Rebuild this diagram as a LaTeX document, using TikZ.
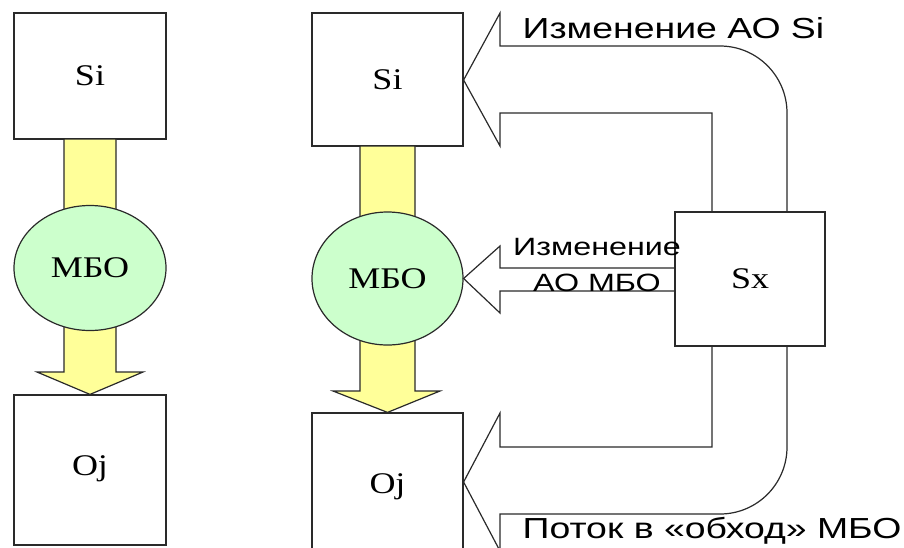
\documentclass[tikz,border=0pt]{standalone}
\usepackage{fontspec}
\setmainfont{Liberation Serif}[FakeStretch=1.2]
\newfontfamily\labelfont{Liberation Sans}[FakeStretch=1.29]
\usetikzlibrary{shapes.geometric,calc}
\definecolor{flowyellow}{HTML}{FFFF99}
\definecolor{mbogreen}{HTML}{CCFFCC}
\definecolor{edge}{HTML}{2A2A2A}
\begin{document}
\begin{tikzpicture}[x=1pt,y=-1pt,
  line width=1.2pt,
  box/.style={draw=edge, fill=white, rectangle, inner sep=0pt,
    font=\fontsize{30}{30}\selectfont},
  mbo/.style={draw=edge, fill=mbogreen, ellipse, inner sep=0pt,
    font=\fontsize{30}{30}\selectfont},
  flow/.style={draw=edge, fill=flowyellow, line join=miter},
  hollow/.style={draw=edge, line join=miter},
  caption/.style={inner sep=0pt, anchor=base west,
    font=\labelfont\fontsize{29}{29}\selectfont},
]
\useasboundingbox (0,0) rectangle (904,547);

% left column: direct flow through the MBO
\node[box, minimum width=152pt, minimum height=126pt] (si1) at (90,76) {Si};
\node[box, minimum width=152pt, minimum height=150pt] (oj1) at (90,470) {\raisebox{9pt}{Oj}};
\draw[flow] (64,139) -- (64,372) -- (37,372) -- (oj1.north) -- (143,372) -- (116,372) -- (116,139) -- cycle;
\node[mbo, minimum width=152pt, minimum height=125pt] (mbo1) at (90,268) {МБО};

% right column
\node[box, minimum width=151pt, minimum height=133pt] (si2) at (387.5,79.5) {Si};
\node[box, minimum width=151pt, minimum height=150pt] (oj2) at (387.5,488) {\raisebox{9pt}{Oj}};
\draw[flow] (360,146) -- (360,391) -- (333,391) -- (oj2.north) -- (440,391) -- (415,391) -- (415,146) -- cycle;
\node[mbo, minimum width=151pt, minimum height=133pt] (mbo2) at (387.5,278.5) {МБО};
\node[box, minimum width=150pt, minimum height=134pt] (sx) at (750,279) {Sx};

% Sx acts on Si
\draw[hollow] (si2.east |- 0,80) -- (500,13) -- (500,46) -- (720,46)
  .. controls (757,46) and (787,76) .. (787,113)
  -- (sx.north -| 787,0);
\draw[hollow] (sx.north -| 712,0) -- (712,113) -- (500,113) -- (500,146) -- (si2.east |- 0,80);

% Sx acts on the MBO
\draw[hollow] (sx.west |- 0,268) -- (500,268) -- (500,246) -- (mbo2.east)
  -- (500,313) -- (500,291) -- (sx.west |- 0,291);

% flow around the MBO to Oj
\draw[hollow] (sx.south -| 787,0) -- (787,447)
  .. controls (787,484) and (757,514) .. (720,514)
  -- (500,514) -- (500,551) -- (oj2.east |- 0,482) -- (500,413) -- (500,447) -- (712,447) -- (sx.south -| 712,0);

\node[caption] (capsi) at (522,38) {Изменение АО Si};
\node[caption, anchor=center, align=center, font=\labelfont\fontsize{25}{36}\selectfont] (capmbo) at (597,265) {Изменение\\АО МБО};
\node[caption] (capbypass) at (522,538) {Поток в «обход» МБО};
\end{tikzpicture}
\end{document}
